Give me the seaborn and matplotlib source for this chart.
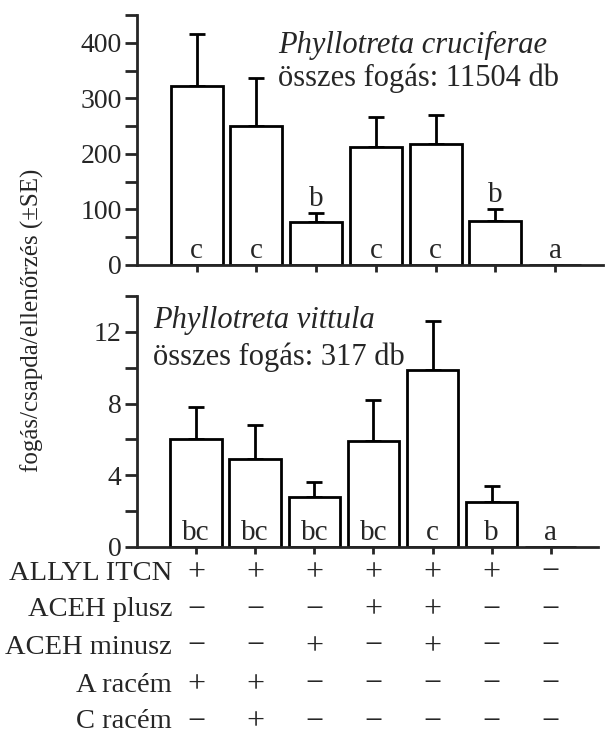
import numpy as np
import pandas as pd
import matplotlib
matplotlib.use("Agg")
import matplotlib.pyplot as plt
import seaborn as sns
from matplotlib import font_manager
from matplotlib.font_manager import FontProperties
from matplotlib.ticker import MultipleLocator

# Mean catch per trap per check, with SE, for the seven lure treatments
treatments = ["T1", "T2", "T3", "T4", "T5", "T6", "T7"]
cruciferae_mean = [322, 250, 78, 212, 217, 80, 0]
cruciferae_se = [94, 87, 16, 54, 53, 20, 0]
cruciferae_letters = ["c", "c", "b", "c", "c", "b", "a"]
cruciferae_letter_above = [False, False, True, False, False, True, False]

vittula_mean = [6.0, 4.9, 2.8, 5.9, 9.9, 2.5, 0]
vittula_se = [1.8, 1.9, 0.8, 2.3, 2.7, 0.9, 0]
vittula_letters = ["bc", "bc", "bc", "bc", "c", "b", "a"]

# Lure composition table under the bars
row_labels = ["ALLYL ITCN", "ACEH plusz", "ACEH minusz", "A racém", "C racém"]
composition = [
    ["+", "+", "+", "+", "+", "+", "−"],
    ["−", "−", "−", "+", "+", "−", "−"],
    ["−", "−", "+", "−", "+", "−", "−"],
    ["+", "+", "−", "−", "−", "−", "−"],
    ["−", "+", "−", "−", "−", "−", "−"],
]

sns.set_style("ticks")


def serif_file(style):
    """Path of the Liberation Serif face with the given style."""
    for f in font_manager.fontManager.ttflist:
        if (f.name == "Liberation Serif" and f.style == style
                and f.weight in (400, "normal", "regular")):
            return f.fname
    return font_manager.findfont(FontProperties(family="serif", style=style))


REG = serif_file("normal")
ITA = serif_file("italic")


def fp(size, italic=False):
    return FontProperties(fname=ITA if italic else REG, size=size)


TICK_FS = 20
LETTER_FS = 21
ROW_FS = 20.5
SYMBOL_FS = 23
TITLE_FS = 22
W, H = 605, 735
fig = plt.figure(figsize=(W / 100, H / 100), dpi=100)

left = 137 / W
ax1 = fig.add_axes([left, 1 - 265 / H, (603 - 137) / W, 250 / H])
ax2 = fig.add_axes([left, 1 - 547 / H, (598 - 137) / W, 251 / H])


def draw_panel(ax, means, ses, letters, above, ymax, major, minor):
    df = pd.DataFrame({"treatment": treatments, "mean": means})
    sns.barplot(data=df, x="treatment", y="mean", ax=ax, color="white",
                edgecolor="black", linewidth=2.0, width=0.87, errorbar=None,
                saturation=1)
    x = np.arange(len(means))
    ax.errorbar(x, means, yerr=[np.zeros(len(ses)), ses], fmt="none",
                ecolor="black", elinewidth=2.0, capsize=6, capthick=2.0,
                zorder=0.5)
    ax.set_xlim(-1.0, 6.8)
    ax.set_ylim(0, ymax)
    yt = np.arange(0, ymax + 0.001, major)
    ax.set_yticks(yt)
    ax.set_yticklabels([f"{v:g}" for v in yt], fontproperties=fp(TICK_FS))
    ax.yaxis.set_minor_locator(MultipleLocator(minor))
    ax.tick_params(axis="y", which="both", direction="out", length=9,
                   width=2, pad=2)
    ax.tick_params(axis="x", which="major", direction="out", length=5,
                   width=2, labelbottom=False)
    ax.set_xlabel("")
    ax.set_ylabel("")
    for s in ("top", "right"):
        ax.spines[s].set_visible(False)
    for s in ("left", "bottom"):
        ax.spines[s].set_linewidth(2)
    for i, lab in enumerate(letters):
        base = means[i] + ses[i] if above[i] else 0
        ax.annotate(lab, xy=(i, base), xytext=(0, 5),
                    textcoords="offset points", ha="center",
                    va="baseline", fontproperties=fp(LETTER_FS))


draw_panel(ax1, cruciferae_mean, cruciferae_se, cruciferae_letters,
           cruciferae_letter_above, 450, 100, 50)
draw_panel(ax2, vittula_mean, vittula_se, vittula_letters,
           [False] * 7, 14, 4, 2)

fig.text(278 / W, 1 - 45 / H, "Phyllotreta cruciferae",
         fontproperties=fp(TITLE_FS, italic=True), ha="left", va="center")
fig.text(278 / W, 1 - 78 / H, "összes fogás: 11504 db",
         fontproperties=fp(TITLE_FS), ha="left", va="center")
fig.text(153 / W, 1 - 320 / H, "Phyllotreta vittula",
         fontproperties=fp(TITLE_FS, italic=True), ha="left", va="center")
fig.text(153 / W, 1 - 357 / H, "összes fogás: 317 db",
         fontproperties=fp(TITLE_FS), ha="left", va="center")

fig.text(32 / W, 1 - 320 / H, "fogás/csapda/ellenőrzés (±SE)", rotation=90,
         fontproperties=fp(18), ha="center", va="center")

# Composition table, columns aligned with the bar positions
row_y = [573, 610, 647, 685, 722]
inv = fig.transFigure.inverted()
for r, (lab, yy) in enumerate(zip(row_labels, row_y)):
    yf = 1 - yy / H
    fig.text(172 / W, yf, lab, fontproperties=fp(ROW_FS), ha="right",
             va="center")
    for i, sym in enumerate(composition[r]):
        xd = ax2.transData.transform((i, 0))[0]
        xf = inv.transform((xd, 0))[0]
        fig.text(xf, yf, sym, fontproperties=fp(SYMBOL_FS), ha="center",
                 va="center")

fig.savefig("out.png", dpi=100)
